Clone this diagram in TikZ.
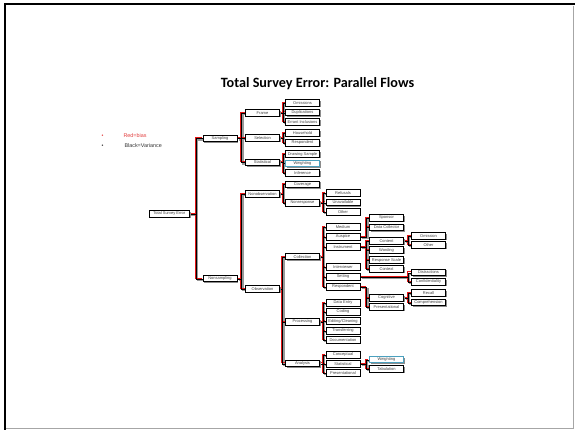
\documentclass[tikz,border=0pt]{standalone}
\usepackage{fontspec}
\setmainfont{Liberation Sans}
\newfontfamily\titlefont{Carlito}
\usetikzlibrary{shadows}
\definecolor{biasred}{RGB}{228,20,20}
\definecolor{legred}{RGB}{225,60,60}
\definecolor{wblue}{RGB}{75,160,190}
\pgfdeclarelayer{bg}
\pgfsetlayers{bg,main}
\begin{document}
\begin{tikzpicture}[x=1pt,y=-1pt,
  box/.style={draw=black, line width=0.8pt, fill=white, minimum width=34pt, minimum height=6.5pt,
    inner sep=0pt, font=\fontsize{4}{4}\selectfont, text=black!75,
    general shadow={fill=black!45, shadow xshift=1.2pt, shadow yshift=-1.2pt}},
  wbox/.style={box, draw=wblue, line width=1pt},
  shadowline/.style={draw=black!40, line width=1.4pt},
  redline/.style={draw=biasred, line width=0.8pt},
  blackline/.style={draw=black, line width=0.8pt},
  frameline/.style={line width=2pt},
  legend/.style={anchor=base west, inner sep=0pt, font=\fontsize{5.4}{5.4}\selectfont}
]
\useasboundingbox (0,0) rectangle (575,430);
\draw[black!35, line width=1pt] (573.5,6) -- (573.5,428.5) -- (5,428.5);
\draw[frameline] (5,430) -- (5,4) -- (575,4);

\node[anchor=base, inner sep=0pt, font=\titlefont\bfseries\fontsize{14.2}{14.2}\selectfont] (title) at (317.5,87.5) {Total Survey Error: Parallel Flows};

\node[legend, text=legred] (b1) at (101.5,138) {•};
\node[legend, text=legred] (l1) at (123.3,138) {Red=bias};
\node[legend, text=black!80] (b2) at (101.5,147.6) {•};
\node[legend, text=black!80] (l2) at (124.3,147.6) {Black=Variance};

% column 0/1/2
\node[box, minimum width=40pt] (TSE) at (169.3,213.7) {Total Survey Error};
\node[box] (Samp) at (220,138.2) {Sampling};
\node[box] (Nons) at (220,278.6) {Nonsampling};
\node[box] (Frame) at (262.5,113) {Frame};
\node[box] (Sel) at (262.5,138) {Selection};
\node[box] (Stat1) at (262.5,162.2) {Statistical};
\node[box] (Nonobs) at (262.5,193.7) {Nonobservation};
\node[box] (Obs) at (262.5,289) {Observation};
% column 3
\node[box] (Omis) at (302.5,103) {Omissions};
\node[box] (Dup) at (302.5,112.5) {Duplications};
\node[box] (Err) at (302.5,121.7) {Errant Inclusions};
\node[box] (House) at (302.5,133) {Household};
\node[box] (Resp1) at (302.5,142.7) {Respondent};
\node[box] (DrawS) at (302.5,154) {Drawing Sample};
\node[wbox] (Weight1) at (302.5,163.3) {Weighting};
\node[box] (Infer) at (302.5,172.7) {Inference};
\node[box] (Cov) at (302.5,184.2) {Coverage};
\node[box] (Nonresp) at (302.5,202.7) {Nonresponse};
\node[box] (Coll) at (302.5,256.6) {Collection};
\node[box] (Proc) at (302.5,321.7) {Processing};
\node[box] (Anal) at (302.5,363.3) {Analysis};
% column 4
\node[box] (Ref) at (343,193) {Refusals};
\node[box] (Unav) at (343,202.5) {Unavailable};
\node[box] (Oth1) at (343,212) {Other};
\node[box] (Med) at (343,227) {Medium};
\node[box] (Ausp) at (343,236.7) {Auspice};
\node[box] (Instr) at (343,246.7) {Instrument};
\node[box] (Intv) at (343,266.7) {Interviewer};
\node[box] (Sett) at (343,276.7) {Setting};
\node[box] (Resp2) at (343,286.7) {Respondent};
\node[box] (DE) at (343,302.7) {Data Entry};
\node[box] (Cod) at (343,311.7) {Coding};
\node[box] (Edit) at (343,321) {Editing/Cleaning};
\node[box] (Trans) at (343,330.7) {Transferring};
\node[box] (Doc) at (343,340) {Documentation};
\node[box] (Conc) at (343,354.7) {Conceptual};
\node[box] (Stat2) at (343,364) {Statistical};
\node[box] (Pres2) at (343,373) {Presentational};
% column 5
\node[box] (Spon) at (386.5,217.7) {Sponsor};
\node[box] (DC) at (386.5,227.3) {Data Collector};
\node[box] (Cont) at (386.5,240.8) {Content};
\node[box] (Word) at (386.5,250) {Wording};
\node[box] (RS) at (386.5,260) {Response Scale};
\node[box] (Ctx) at (386.5,269) {Context};
\node[box] (Cog) at (386.5,297.7) {Cognitive};
\node[box] (Pres1) at (386.5,306.8) {Presentational};
\node[wbox] (Weight2) at (386.5,359.7) {Weighting};
\node[box] (Tab) at (386.5,368.7) {Tabulation};
% column 6
\node[box] (Omn) at (428.5,235.7) {Omission};
\node[box] (Oth2) at (428.5,245) {Other};
\node[box] (Dist) at (428.5,272.3) {Distractions};
\node[box] (Conf) at (428.5,281.7) {Confidentiality};
\node[box] (Rec) at (428.5,293) {Recall};
\node[box] (Comp) at (428.5,302.5) {Comprehension};

\def\links{TSE/Samp/7, TSE/Nons/7,
  Samp/Frame/4, Samp/Sel/4, Samp/Stat1/4,
  Nons/Nonobs/4, Nons/Obs/4,
  Frame/Omis/2.5, Frame/Dup/2.5, Frame/Err/2.5,
  Sel/House/2.5, Sel/Resp1/2.5,
  Stat1/DrawS/2.5, Stat1/Weight1/2.5, Stat1/Infer/2.5,
  Nonobs/Cov/2.5, Nonobs/Nonresp/2.5,
  Obs/Coll/3, Obs/Proc/3, Obs/Anal/3,
  Nonresp/Ref/3, Nonresp/Unav/3, Nonresp/Oth1/3,
  Coll/Med/3, Coll/Ausp/3, Coll/Instr/3, Coll/Intv/3, Coll/Sett/3, Coll/Resp2/3,
  Proc/DE/3, Proc/Cod/3, Proc/Edit/3, Proc/Trans/3, Proc/Doc/3,
  Anal/Conc/3, Anal/Stat2/3, Anal/Pres2/3,
  Ausp/Spon/3, Ausp/DC/3,
  Instr/Cont/3, Instr/Word/3, Instr/RS/3, Instr/Ctx/3,
  Resp2/Cog/3, Resp2/Pres1/3,
  Stat2/Weight2/3, Stat2/Tab/3,
  Cont/Omn/3.3, Cont/Oth2/3.3,
  Sett/Dist/3.3, Sett/Conf/3.3,
  Cog/Rec/3.3, Cog/Comp/3.3}

\begin{pgfonlayer}{bg}
\foreach \p/\c/\d in \links {
  \draw[shadowline] ([shift={(1.7,1.7)}]\p.east) -| ([shift={(1.7-\d,1.7)}]\c.west) -- ([shift={(1.7,1.7)}]\c.west);
}
\foreach \p/\c/\d in \links {
  \draw[redline] ([shift={(-0.6,-0.6)}]\p.east) -| ([shift={(-0.6-\d,-0.6)}]\c.west) -- ([shift={(-0.6,-0.6)}]\c.west);
}
\foreach \p/\c/\d in \links {
  \draw[blackline] ([shift={(0.6,0.6)}]\p.east) -| ([shift={(0.6-\d,0.6)}]\c.west) -- ([shift={(0.6,0.6)}]\c.west);
}
\end{pgfonlayer}
\end{tikzpicture}
\end{document}
